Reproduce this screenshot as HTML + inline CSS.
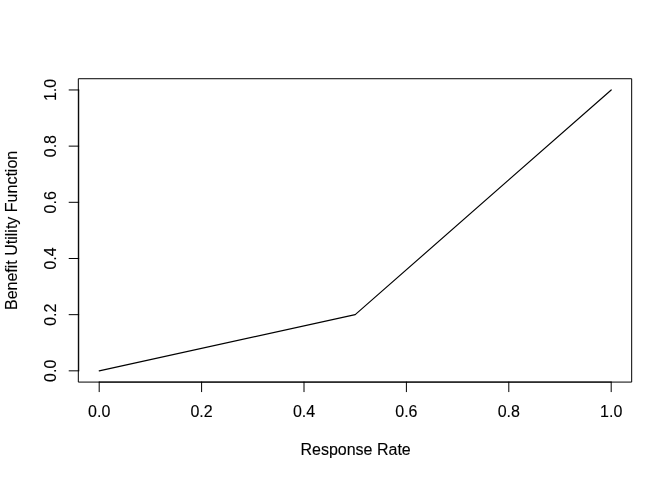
<!DOCTYPE html>
<html><head><meta charset="utf-8"><title>Benefit Utility Function</title>
<style>html,body{margin:0;padding:0;background:#fff}svg{display:block}text{font-family:"Liberation Sans",Arial,Helvetica,sans-serif;font-size:16px;fill:#000;stroke:#000;stroke-width:0.12px}</style></head>
<body>
<svg width="672" height="480" viewBox="0 0 672 480">
<rect width="672" height="480" fill="#fff"/>
<g fill="none" stroke="#000" stroke-width="1" stroke-linecap="round" stroke-linejoin="round">
<polyline stroke-width="1.15" points="99.20,370.84 355.20,314.67 611.20,89.96"/>
<path d="M99.20,382.08H611.20"/>
<path d="M99.20,382.08v9.6"/>
<path d="M201.60,382.08v9.6"/>
<path d="M304.00,382.08v9.6"/>
<path d="M406.40,382.08v9.6"/>
<path d="M508.80,382.08v9.6"/>
<path d="M611.20,382.08v9.6"/>
<path d="M78.72,370.84V89.96"/>
<path d="M78.72,370.84h-9.6"/>
<path d="M78.72,314.67h-9.6"/>
<path d="M78.72,258.49h-9.6"/>
<path d="M78.72,202.31h-9.6"/>
<path d="M78.72,146.13h-9.6"/>
<path d="M78.72,89.96h-9.6"/>
<path d="M78.72,382.08H631.68V78.72H78.72Z"/>
</g>
<g text-anchor="middle">
<text x="99.20" y="416.64">0.0</text>
<text x="201.60" y="416.64">0.2</text>
<text x="304.00" y="416.64">0.4</text>
<text x="406.40" y="416.64">0.6</text>
<text x="508.80" y="416.64">0.8</text>
<text x="611.20" y="416.64">1.0</text>
<text transform="translate(55.68,370.84) rotate(-90)">0.0</text>
<text transform="translate(55.68,314.67) rotate(-90)">0.2</text>
<text transform="translate(55.68,258.49) rotate(-90)">0.4</text>
<text transform="translate(55.68,202.31) rotate(-90)">0.6</text>
<text transform="translate(55.68,146.13) rotate(-90)">0.8</text>
<text transform="translate(55.68,89.96) rotate(-90)">1.0</text>
<text x="355.60" y="455.04">Response Rate</text>
<text transform="translate(17.28,230.40) rotate(-90)">Benefit Utility Function</text>
</g>
</svg>
</body></html>
